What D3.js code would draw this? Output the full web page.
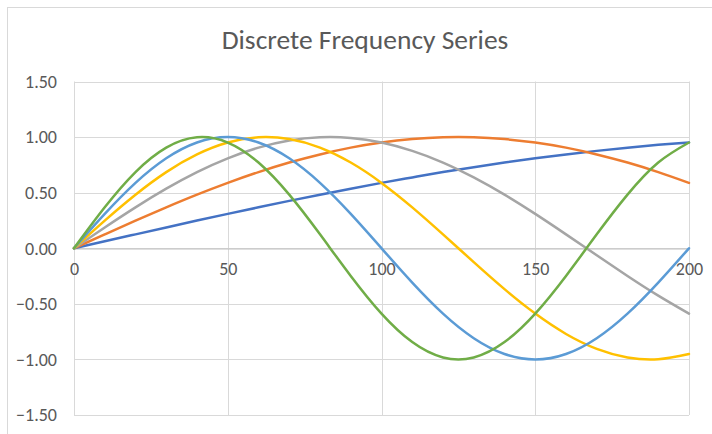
<!DOCTYPE html>
<html>
<head>
<meta charset="utf-8">
<script src="https://cdn.jsdelivr.net/npm/d3@7"></script>
<style>
  body { margin: 0; background: #fff; }
  text { font-family: Carlito, Calibri, "Open Sans", sans-serif; fill: #595959; }
</style>
</head>
<body>
<div id="chart"></div>
<script>
const xValues = [0, 10, 20, 30, 40, 50, 60, 70, 80, 90, 100, 110, 120, 130, 140, 150, 160, 170, 180, 190, 200];

const series1 = [0, 0.063, 0.125, 0.187, 0.249, 0.309, 0.368, 0.426, 0.482, 0.536, 0.588, 0.637, 0.685, 0.729, 0.771, 0.809, 0.844, 0.876, 0.905, 0.930, 0.951];
const series2 = [0, 0.125, 0.249, 0.368, 0.482, 0.588, 0.685, 0.771, 0.844, 0.905, 0.951, 0.982, 0.998, 0.998, 0.982, 0.951, 0.905, 0.844, 0.771, 0.685, 0.588];
const series3 = [0, 0.187, 0.368, 0.536, 0.685, 0.809, 0.905, 0.969, 0.998, 0.992, 0.951, 0.876, 0.771, 0.637, 0.482, 0.309, 0.125, -0.063, -0.249, -0.426, -0.588];
const series4 = [0, 0.249, 0.482, 0.685, 0.844, 0.951, 0.998, 0.982, 0.905, 0.771, 0.588, 0.368, 0.125, -0.125, -0.368, -0.588, -0.771, -0.905, -0.982, -0.998, -0.951];
const series5 = [0, 0.309, 0.588, 0.809, 0.951, 1.0, 0.951, 0.809, 0.588, 0.309, 0, -0.309, -0.588, -0.809, -0.951, -1.0, -0.951, -0.809, -0.588, -0.309, 0];
const series6 = [0, 0.368, 0.685, 0.905, 0.998, 0.951, 0.771, 0.482, 0.125, -0.249, -0.588, -0.844, -0.982, -0.982, -0.844, -0.588, -0.249, 0.125, 0.482, 0.771, 0.951];

const seriesList = [series1, series2, series3, series4, series5, series6];
const seriesColors = ["#4472C4", "#ED7D31", "#A5A5A5", "#FFC000", "#5B9BD5", "#70AD47"];

const yTicks = [-1.5, -1.0, -0.5, 0, 0.5, 1.0, 1.5];
const xTicks = [0, 50, 100, 150, 200];

const width = 712, height = 434;
const margin = { left: 74, right: 23, top: 81.5, bottom: 19 };

const svg = d3.select("#chart").append("svg")
    .attr("width", width)
    .attr("height", height);

// chart border
svg.append("rect")
    .attr("x", 7.5).attr("y", 7.5)
    .attr("width", 720).attr("height", 440)
    .attr("fill", "none")
    .attr("stroke", "#D9D9D9");

svg.append("text")
    .attr("x", 365)
    .attr("y", 49)
    .attr("text-anchor", "middle")
    .style("font-size", "27.5px")
    .text("Discrete Frequency Series");

const x = d3.scaleLinear().domain([0, 200]).range([margin.left, width - margin.right]);
const y = d3.scaleLinear().domain([-1.5, 1.5]).range([height - margin.bottom, margin.top]);

// gridlines
svg.append("g").selectAll("line.h")
    .data(yTicks)
    .enter().append("line")
    .attr("x1", x(0)).attr("x2", x(200))
    .attr("y1", d => Math.round(y(d)) + 0.5).attr("y2", d => Math.round(y(d)) + 0.5)
    .attr("stroke", "#D9D9D9");

svg.append("g").selectAll("line.v")
    .data(xTicks)
    .enter().append("line")
    .attr("x1", d => Math.round(x(d)) + 0.5).attr("x2", d => Math.round(x(d)) + 0.5)
    .attr("y1", y(1.5)).attr("y2", y(-1.5))
    .attr("stroke", "#D9D9D9");

// y axis labels
const yAxis = d3.axisLeft(y).tickValues(yTicks).tickFormat(d3.format(".2f")).tickSize(0).tickPadding(17);
const gy = svg.append("g").attr("transform", `translate(${margin.left},0)`).call(yAxis);
gy.select(".domain").remove();
gy.selectAll("text").style("font-size", "18px").attr("fill", "#595959");

// x axis at zero
const xAxis = d3.axisBottom(x).tickValues(xTicks).tickFormat(d3.format("d")).tickSize(0).tickPadding(14);
const gx = svg.append("g").attr("transform", `translate(0,${Math.round(y(0)) + 0.5})`).call(xAxis);
gx.select(".domain").attr("stroke", "#BFBFBF");
gx.selectAll("text").style("font-size", "18px").attr("fill", "#595959");

const line = d3.line()
    .x((d, i) => x(xValues[i]))
    .y(d => y(d))
    .curve(d3.curveNatural);

svg.append("g").selectAll("path")
    .data(seriesList)
    .enter().append("path")
    .attr("d", line)
    .attr("fill", "none")
    .attr("stroke", (d, i) => seriesColors[i])
    .attr("stroke-width", 2.5)
    .attr("stroke-linejoin", "round")
    .attr("stroke-linecap", "round");
</script>
</body>
</html>
